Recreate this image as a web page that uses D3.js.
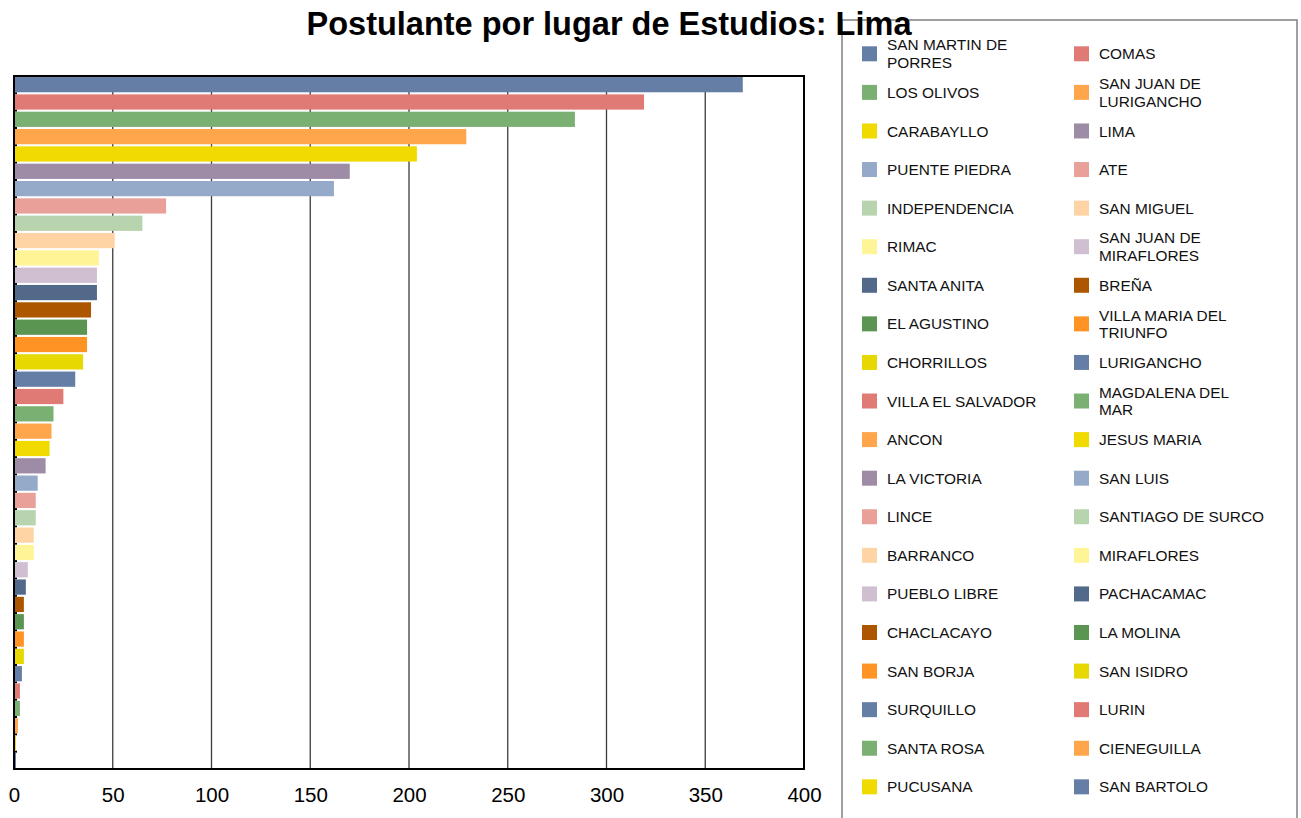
<!DOCTYPE html>
<html>
<head>
<meta charset="utf-8">
<script src="https://cdn.jsdelivr.net/npm/d3@7"></script>
<style>
  html, body { margin: 0; padding: 0; background: #ffffff; }
  svg { display: block; font-family: "Liberation Sans", Arial, sans-serif; }
</style>
</head>
<body>
<svg id="chart" width="1301" height="818"></svg>
<script>
// Applicants by district of study, Lima
const districts = [
  "SAN MARTIN DE PORRES", "COMAS", "LOS OLIVOS", "SAN JUAN DE LURIGANCHO",
  "CARABAYLLO", "LIMA", "PUENTE PIEDRA", "ATE", "INDEPENDENCIA", "SAN MIGUEL",
  "RIMAC", "SAN JUAN DE MIRAFLORES", "SANTA ANITA", "BREÑA", "EL AGUSTINO",
  "VILLA MARIA DEL TRIUNFO", "CHORRILLOS", "LURIGANCHO", "VILLA EL SALVADOR",
  "MAGDALENA DEL MAR", "ANCON", "JESUS MARIA", "LA VICTORIA", "SAN LUIS",
  "LINCE", "SANTIAGO DE SURCO", "BARRANCO", "MIRAFLORES", "PUEBLO LIBRE",
  "PACHACAMAC", "CHACLACAYO", "LA MOLINA", "SAN BORJA", "SAN ISIDRO",
  "SURQUILLO", "LURIN", "SANTA ROSA", "CIENEGUILLA", "PUCUSANA", "SAN BARTOLO"
];

// Legend labels, split where the legend column wraps them
const legendLabels = [
  ["SAN MARTIN DE", "PORRES"], ["COMAS"], ["LOS OLIVOS"], ["SAN JUAN DE", "LURIGANCHO"],
  ["CARABAYLLO"], ["LIMA"], ["PUENTE PIEDRA"], ["ATE"], ["INDEPENDENCIA"], ["SAN MIGUEL"],
  ["RIMAC"], ["SAN JUAN DE", "MIRAFLORES"], ["SANTA ANITA"], ["BREÑA"], ["EL AGUSTINO"],
  ["VILLA MARIA DEL", "TRIUNFO"], ["CHORRILLOS"], ["LURIGANCHO"], ["VILLA EL SALVADOR"],
  ["MAGDALENA DEL", "MAR"], ["ANCON"], ["JESUS MARIA"], ["LA VICTORIA"], ["SAN LUIS"],
  ["LINCE"], ["SANTIAGO DE SURCO"], ["BARRANCO"], ["MIRAFLORES"], ["PUEBLO LIBRE"],
  ["PACHACAMAC"], ["CHACLACAYO"], ["LA MOLINA"], ["SAN BORJA"], ["SAN ISIDRO"],
  ["SURQUILLO"], ["LURIN"], ["SANTA ROSA"], ["CIENEGUILLA"], ["PUCUSANA"], ["SAN BARTOLO"]
];

const applicants = [
  369, 319, 284, 229,
  204, 170, 162, 77, 65, 51,
  43, 42, 42, 39, 37,
  37, 35, 31, 25,
  20, 19, 18, 16, 12,
  11, 11, 10, 10, 7,
  6, 5, 5, 5, 5,
  4, 3, 3, 2, 1, 1
];

const xTicks = [0, 50, 100, 150, 200, 250, 300, 350, 400];

const palette = [
  "#647ea5", "#e07a74", "#7bb073", "#ffa64c", "#f0da00", "#9e8ba5",
  "#95aac8", "#e8a098", "#b7d4af", "#ffd4a4", "#fff597", "#d0bfd0",
  "#526989", "#ad5600", "#5b9552", "#ff9324", "#e6d800"
];
// Palette slot used by each district (the list cycles, the last bar reuses the first slot)
const colorSlot = districts.map((d, i) => (i < 39 ? i % palette.length : 0));

const titleText = "Postulante por lugar de Estudios: Lima";

const rows = districts.map((d, i) => ({
  name: d, value: applicants[i], color: palette[colorSlot[i]], lines: legendLabels[i]
}));

const svg = d3.select("#chart");
svg.append("rect").attr("width", 1301).attr("height", 818).attr("fill", "#ffffff");

// Plot area
const plot = { left: 14, right: 804, top: 76, bottom: 769 };

const x = d3.scaleLinear().domain([0, 400]).range([plot.left, plot.right]);
const y = d3.scaleBand().domain(districts).range([plot.top, plot.bottom])
  .paddingInner(0.12).paddingOuter(0.06);

// Vertical grid lines
svg.append("g")
  .selectAll("line")
  .data(xTicks.filter(t => t > 0 && t < 400))
  .join("line")
  .attr("x1", d => x(d)).attr("x2", d => x(d))
  .attr("y1", plot.top).attr("y2", plot.bottom)
  .attr("stroke", "#3c3c3c").attr("stroke-width", 1.3);

// Category tick marks along the left axis
const boundaries = districts.map(d => y(d) - y.step() * y.paddingInner() / 2).slice(1);
svg.append("g")
  .selectAll("line")
  .data(boundaries)
  .join("line")
  .attr("x1", plot.left).attr("x2", plot.left + 3)
  .attr("y1", d => d).attr("y2", d => d)
  .attr("stroke", "#000").attr("stroke-width", 2);

// Bars
svg.append("g")
  .selectAll("rect")
  .data(rows)
  .join("rect")
  .attr("x", x(0))
  .attr("y", d => y(d.name))
  .attr("width", d => x(d.value) - x(0))
  .attr("height", y.bandwidth())
  .attr("fill", d => d.color);

// Plot frame
svg.append("rect")
  .attr("x", plot.left).attr("y", plot.top)
  .attr("width", plot.right - plot.left).attr("height", plot.bottom - plot.top)
  .attr("fill", "none").attr("stroke", "#000").attr("stroke-width", 2);

// Bottom axis labels
const xAxis = d3.axisBottom(x).tickValues(xTicks).tickSize(0).tickPadding(0).tickFormat(d3.format("d"));
const gx = svg.append("g").attr("transform", `translate(0,${plot.bottom})`).call(xAxis);
gx.select(".domain").remove();
gx.selectAll("text")
  .attr("y", 33).attr("dy", null)
  .attr("fill", "#000")
  .style("font-family", "'Liberation Sans', Arial, sans-serif")
  .style("font-size", "20.5px");

// Legend
const legend = svg.append("g");
legend.append("rect")
  .attr("x", 842).attr("y", 20).attr("width", 455).attr("height", 830)
  .attr("fill", "#fff").attr("stroke", "#808080").attr("stroke-width", 1.5);

const rowGap = 38.58, firstRow = 53.8, lineH = 17.8;
const items = legend.selectAll("g.item")
  .data(rows)
  .join("g")
  .attr("class", "item")
  .attr("transform", (d, i) => {
    const col = i % 2, row = Math.floor(i / 2);
    return `translate(${col ? 1074 : 862},${firstRow + row * rowGap})`;
  });

items.append("rect")
  .attr("x", 0).attr("y", -7.5).attr("width", 15).attr("height", 15)
  .attr("fill", d => d.color);

items.append("text")
  .attr("x", 25)
  .attr("font-size", "15.4px")
  .attr("fill", "#111")
  .selectAll("tspan")
  .data(d => d.lines.map((ln, k) => ({ ln, k, n: d.lines.length })))
  .join("tspan")
  .attr("x", 25)
  .attr("y", e => -(e.n - 1) * lineH / 2 + e.k * lineH)
  .attr("dy", "0.36em")
  .text(e => e.ln);

// Title
svg.append("text")
  .attr("x", 609).attr("y", 35)
  .attr("text-anchor", "middle")
  .attr("font-size", "32.5px")
  .attr("font-weight", "bold")
  .attr("fill", "#000")
  .text(titleText);
</script>
</body>
</html>
